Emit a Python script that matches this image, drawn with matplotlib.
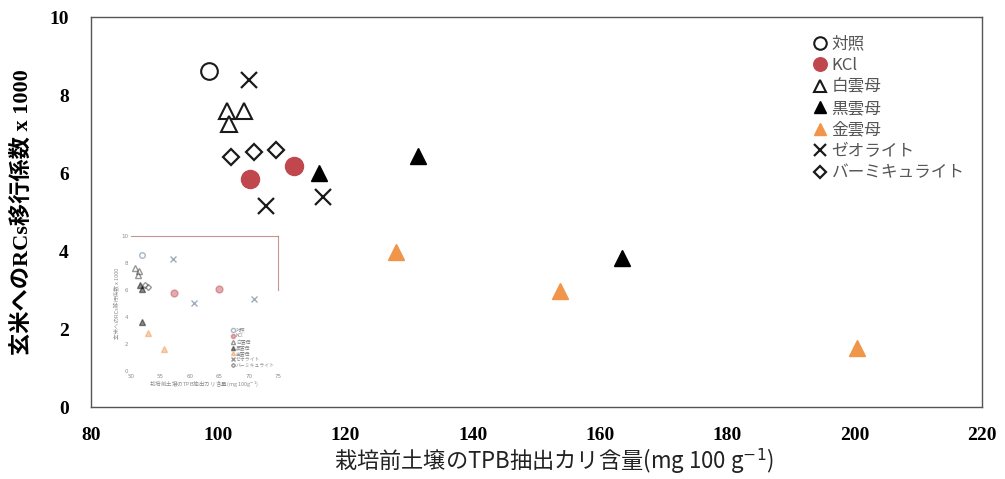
import matplotlib
matplotlib.use("Agg")
import matplotlib.pyplot as plt
from matplotlib.lines import Line2D

# ---- data (main chart) ----
series_names = ["対照", "KCl", "白雲母", "黒雲母", "金雲母", "ゼオライト", "バーミキュライト"]
x_control = [98.5]
y_control = [8.62]
x_kcl = [105.0, 111.9]
y_kcl = [5.85, 6.18]
x_white = [101.4, 104.1, 101.7]
y_white = [7.60, 7.60, 7.25]
x_black = [115.8, 131.4, 163.4]
y_black = [6.00, 6.43, 3.82]
x_gold = [127.9, 153.7, 200.4]
y_gold = [3.97, 2.97, 1.51]
x_zeo = [104.8, 107.5, 116.5]
y_zeo = [8.38, 5.15, 5.38]
x_verm = [102.0, 105.6, 109.1]
y_verm = [6.41, 6.54, 6.59]

xticks = [80, 100, 120, 140, 160, 180, 200, 220]
yticks = [0, 2, 4, 6, 8, 10]

# ---- data (faded inset) ----
in_x_control = [51.9]
in_y_control = [8.6]
in_x_kcl = [57.4, 64.9]
in_y_kcl = [5.8, 6.1]
in_x_white = [50.7, 51.4, 51.2]
in_y_white = [7.6, 7.4, 7.1]
in_x_black = [52.0, 51.6, 52.0]
in_y_black = [6.1, 6.4, 3.6]
in_x_gold = [52.9, 55.7]
in_y_gold = [2.8, 1.6]
in_x_zeo = [57.1, 60.8, 70.8]
in_y_zeo = [8.3, 5.0, 5.3]
in_x_verm = [52.5, 52.9]
in_y_verm = [6.4, 6.2]
in_xticks = [50, 55, 60, 65, 70, 75]

RED = "#c0474e"
ORANGE = "#f0954a"
DARK = "#1a1a1a"

fig = plt.figure(figsize=(10.05, 4.79), dpi=100)
ax = fig.add_axes([0.0905, 0.150, 0.8866, 0.8145])

ms = 12
ax.plot(x_control, y_control, ls="none", marker="o", ms=ms, mfc="white", mec=DARK, mew=1.5, label=series_names[0])
ax.plot(x_kcl, y_kcl, ls="none", marker="o", ms=ms + 1, mfc=RED, mec=RED, label=series_names[1])
ax.plot(x_white, y_white, ls="none", marker="^", ms=ms, mfc="white", mec=DARK, mew=1.5, label=series_names[2])
ax.plot(x_black, y_black, ls="none", marker="^", ms=ms, mfc="black", mec="black", label=series_names[3])
ax.plot(x_gold, y_gold, ls="none", marker="^", ms=ms, mfc=ORANGE, mec=ORANGE, label=series_names[4])
ax.plot(x_zeo, y_zeo, ls="none", marker="x", ms=ms, mec=DARK, mew=1.6, label=series_names[5])
ax.plot(x_verm, y_verm, ls="none", marker="D", ms=8, mfc="white", mec=DARK, mew=1.6, label=series_names[6])

ax.set_xlim(80, 220)
ax.set_ylim(0, 10)
ax.set_xticks(xticks)
ax.set_yticks(yticks)
ax.tick_params(axis="x", length=0, pad=14)
ax.tick_params(axis="y", length=0, pad=16)
for lab in ax.get_xticklabels() + ax.get_yticklabels():
    lab.set_fontfamily("Liberation Serif")
    lab.set_fontweight("bold")
    lab.set_fontsize(14)
for s in ax.spines.values():
    s.set_color("#555555")
    s.set_linewidth(1.0)

ax.set_ylabel("玄米へのRCs移行係数 x 1000", family=["Liberation Serif", "Noto Sans CJK JP"],
              fontweight="bold", fontsize=16)
ax.yaxis.set_label_coords(-0.065, 0.5)
ax.set_xlabel("栽培前土壌のTPB抽出カリ含量(mg 100 g$^{-1}$)", family=["Noto Sans CJK JP", "DejaVu Sans"],
              fontsize=16, color="#222222")
ax.xaxis.set_label_coords(0.52, -0.10)

leg = ax.legend(loc="upper left", bbox_to_anchor=(0.805, 0.97), frameon=False,
                prop={"family": ["Noto Sans CJK JP", "DejaVu Sans"], "size": 12},
                handlelength=0.6, handletextpad=0.4, labelspacing=0.27, markerscale=0.75,
                borderaxespad=0)
for t in leg.get_texts():
    t.set_color("#555555")

# ---- faded inset picture ----
A = 0.45
ins = fig.add_axes([0.130, 0.2255, 0.147, 0.282])
ins.set_facecolor("white")
ims = 4
ins.plot(in_x_control, in_y_control, ls="none", marker="o", ms=ims, mfc="white", mec="#3a6080", alpha=A)
ins.plot(in_x_kcl, in_y_kcl, ls="none", marker="o", ms=ims + 1, mfc=RED, mec=RED, alpha=A)
ins.plot(in_x_white, in_y_white, ls="none", marker="^", ms=ims, mfc="white", mec=DARK, alpha=A)
ins.plot(in_x_black, in_y_black, ls="none", marker="^", ms=ims, mfc="black", mec="black", alpha=A)
ins.plot(in_x_gold, in_y_gold, ls="none", marker="^", ms=ims, mfc=ORANGE, mec=ORANGE, alpha=A)
ins.plot(in_x_zeo, in_y_zeo, ls="none", marker="x", ms=ims, mec="#2a4a6a", alpha=A)
ins.plot(in_x_verm, in_y_verm, ls="none", marker="D", ms=3, mfc="white", mec=DARK, alpha=A)
ins.set_xlim(50, 75)
ins.set_ylim(0, 10)
ins.set_xticks(in_xticks)
ins.set_yticks(yticks)
ins.tick_params(length=0, labelsize=4, pad=2, labelcolor=(0, 0, 0, A))
ins.spines["left"].set_visible(False)
ins.spines["bottom"].set_visible(False)
for k in ("top", "right"):
    ins.spines[k].set_color("#b06a60")
    ins.spines[k].set_alpha(0.7)
ins.spines["right"].set_bounds(6.0, 10)
ins.set_ylabel("玄米へのRCs移行係数 x 1000", family=["Noto Sans CJK JP"], fontsize=4, alpha=A, labelpad=1)
ins.set_xlabel("栽培前土壌のTPB抽出カリ含量(mg 100g$^{-1}$)", family=["Noto Sans CJK JP", "DejaVu Sans"],
               fontsize=4, alpha=A, labelpad=1)
il = ins.legend(handles=[
    Line2D([], [], ls="none", marker="o", ms=3, mfc="white", mec="#3a6080"),
    Line2D([], [], ls="none", marker="o", ms=3, mfc=RED, mec=RED),
    Line2D([], [], ls="none", marker="^", ms=3, mfc="white", mec=DARK),
    Line2D([], [], ls="none", marker="^", ms=3, mfc="black", mec="black"),
    Line2D([], [], ls="none", marker="^", ms=3, mfc=ORANGE, mec=ORANGE),
    Line2D([], [], ls="none", marker="x", ms=3, mec=DARK),
    Line2D([], [], ls="none", marker="D", ms=2, mfc="white", mec=DARK),
], labels=series_names, loc="lower right", frameon=False,
    prop={"family": ["Noto Sans CJK JP", "DejaVu Sans"], "size": 3.5},
    handlelength=0.6, handletextpad=0.3, labelspacing=0.15, borderaxespad=0.3)
for t in il.get_texts():
    t.set_alpha(A)
for h in il.legend_handles:
    h.set_alpha(A)

fig.savefig("out.png", dpi=100)
